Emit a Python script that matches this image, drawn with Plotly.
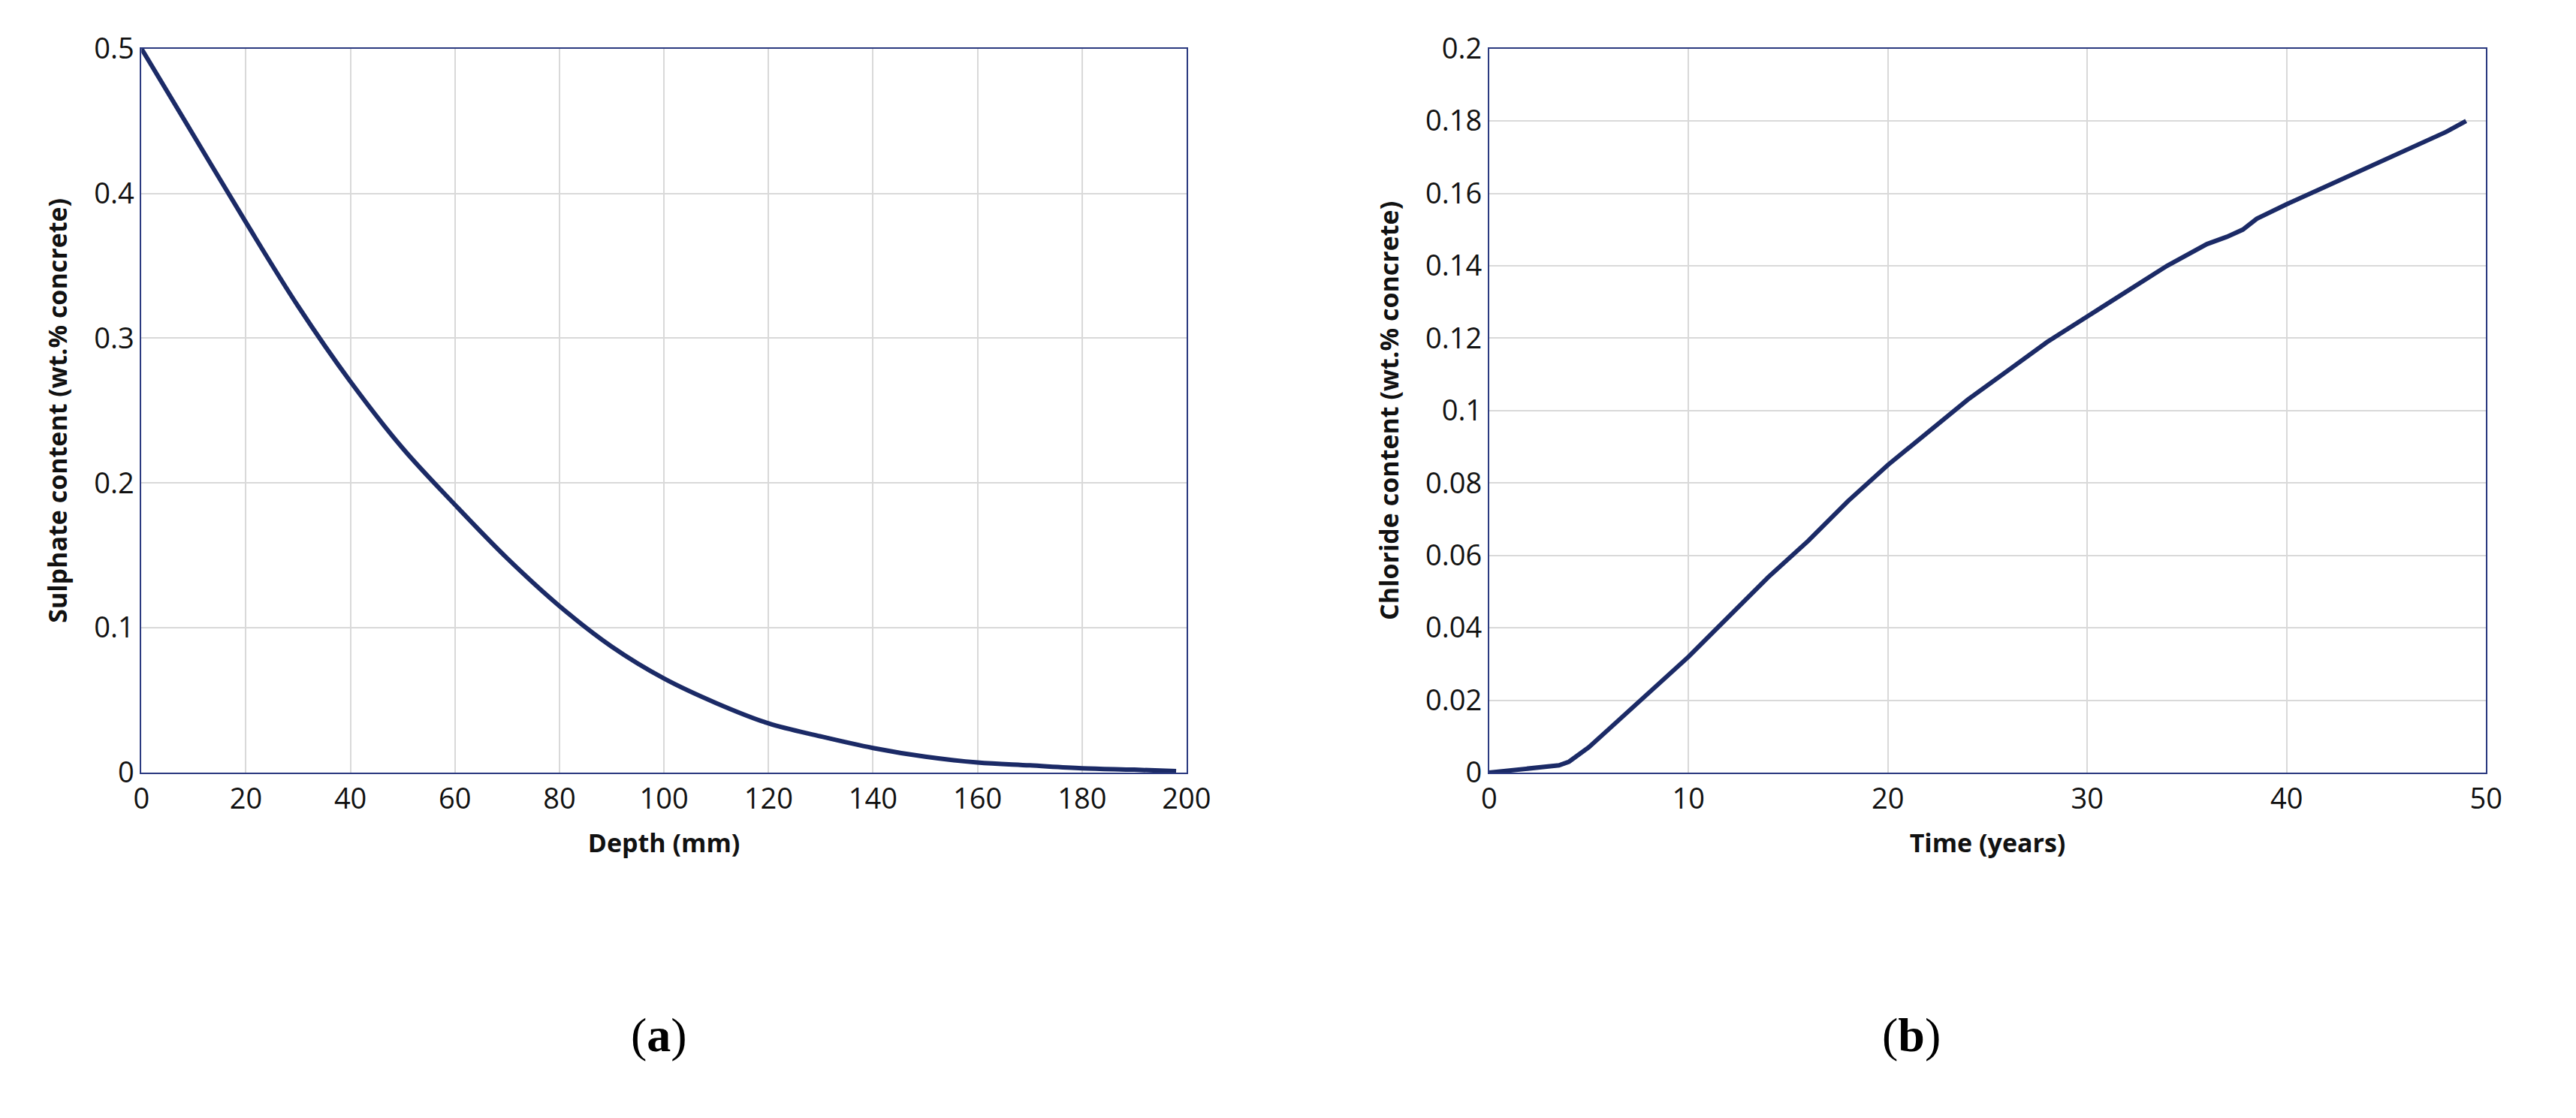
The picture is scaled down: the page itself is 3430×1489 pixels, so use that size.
import plotly.graph_objects as go

depth = [0,10,20,30,40,50,60,70,80,90,100,110,120,130,140,150,160,170,180,190,198]
sulphate = [0.5,0.44,0.38,0.322,0.27,0.224,0.185,0.148,0.115,0.087,0.065,0.048,0.034,0.025,0.017,0.011,0.007,0.005,0.003,0.002,0.001]
time = [0,2,3.5,4,5,6,8,10,12,14,16,18,20,22,24,26,28,30,32,34,36,37,37.8,38.5,40,42,44,46,48,49]
chloride = [0,0.001,0.002,0.003,0.007,0.012,0.022,0.032,0.043,0.054,0.064,0.075,0.085,0.094,0.103,0.111,0.119,0.126,0.133,0.140,0.146,0.148,0.150,0.153,0.157,0.162,0.167,0.172,0.177,0.180]

LINE = "#1b2a66"
fig = go.Figure()
fig.add_trace(go.Scatter(x=depth, y=sulphate, mode="lines", line=dict(color=LINE, width=6, shape="spline"), xaxis="x", yaxis="y", showlegend=False))
fig.add_trace(go.Scatter(x=time, y=chloride, mode="lines", line=dict(color=LINE, width=6), xaxis="x2", yaxis="y2", showlegend=False))

ax = dict(showline=True, linecolor="#2b3a80", linewidth=2, mirror=True, gridcolor="#d9d9d9", gridwidth=2,
          zeroline=False, ticks="", tickfont=dict(family="Open Sans", size=38, color="#111"))
tf = dict(family="Open Sans", size=34, color="#111")
fig.update_layout(
    width=3430, height=1489, paper_bgcolor="white", plot_bgcolor="white",
    margin=dict(l=0, r=0, t=0, b=0),
    xaxis=dict(ax, domain=[0.05, 0.461], range=[0, 200], dtick=20, anchor="y",
               title=dict(text="<b>Depth (mm)</b>", font=tf, standoff=25)),
    yaxis=dict(ax, domain=[0.309, 0.98], range=[0, 0.5], dtick=0.1, anchor="x",
               title=dict(text="<b>Sulphate content (wt.% concrete)</b>", font=tf, standoff=25)),
    xaxis2=dict(ax, domain=[0.58, 0.972], range=[0, 50], dtick=10, anchor="y2",
                title=dict(text="<b>Time (years)</b>", font=tf, standoff=25)),
    yaxis2=dict(ax, domain=[0.309, 0.98], range=[0, 0.2], dtick=0.02, anchor="x2",
                title=dict(text="<b>Chloride content (wt.% concrete)</b>", font=tf, standoff=25)),
    annotations=[
        dict(text="(<b>a</b>)", x=0.242, y=0.04, xref="paper", yref="paper", showarrow=False,
             font=dict(family="Liberation Serif", size=64, color="black")),
        dict(text="(<b>b</b>)", x=0.758, y=0.04, xref="paper", yref="paper", showarrow=False,
             font=dict(family="Liberation Serif", size=64, color="black")),
    ],
)
fig.write_html("out.html")
